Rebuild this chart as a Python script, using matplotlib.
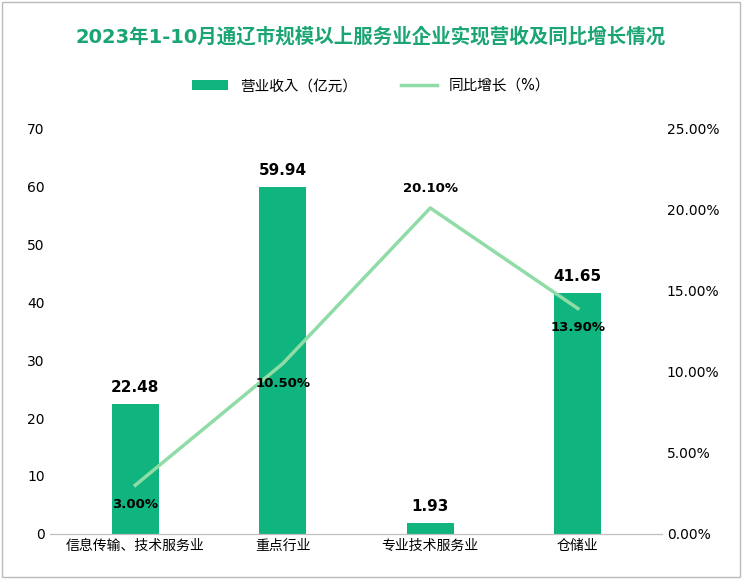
import matplotlib.pyplot as plt
from matplotlib import font_manager
from matplotlib.ticker import FuncFormatter
from matplotlib.patches import Rectangle

names = {f.name for f in font_manager.fontManager.ttflist}
cjk = sorted([n for n in names if 'CJK' in n and 'Sans' in n], key=lambda n: 'SC' not in n)
plt.rcParams['font.family'] = ['DejaVu Sans'] + cjk

categories = ['信息传输、技术服务业', '重点行业', '专业技术服务业', '仓储业']
revenue = [22.48, 59.94, 1.93, 41.65]
growth = [3.00, 10.50, 20.10, 13.90]

bar_color = '#10b47e'
line_color = '#8fdca6'

fig = plt.figure(figsize=(7.42, 5.79), dpi=100)
fig.patches.append(Rectangle((0.003, 0.003), 0.994, 0.994, transform=fig.transFigure,
                             fill=False, edgecolor='#bbbbbb', lw=1))
ax = fig.add_axes([0.067, 0.078, 0.825, 0.7])
ax2 = ax.twinx()

x = range(len(categories))
bars = ax.bar(x, revenue, width=0.32, color=bar_color, label='营业收入（亿元）')
for xi, v in zip(x, revenue):
    ax.text(xi, v + 1.5, f'{v:.2f}', ha='center', va='bottom', fontsize=11, fontweight='bold')
line, = ax2.plot(x, growth, color=line_color, lw=2.5, label='同比增长（%）')
for xi, v in zip(x, growth):
    dy = 1.2 if xi == 2 else -1.2
    ax2.text(xi, v + dy, f'{v:.2f}%', ha='center', va='center', fontsize=9.5, fontweight='bold')

ax.set_ylim(0, 70)
ax.set_yticks(range(0, 71, 10))
ax2.set_ylim(0, 25)
ax2.set_yticks([0, 5, 10, 15, 20, 25])
ax2.yaxis.set_major_formatter(FuncFormatter(lambda v, p: f'{v:.2f}%'))
ax.set_xticks(list(x))
ax.set_xticklabels(categories, fontsize=10)
ax.set_xlim(-0.58, 3.57)
for a in (ax, ax2):
    for s in ['top', 'left', 'right']:
        a.spines[s].set_visible(False)
    a.spines['bottom'].set_color('#bfbfbf')
    a.tick_params(length=0, labelsize=10)

fig.text(0.5, 0.937, '2023年1-10月通辽市规模以上服务业企业实现营收及同比增长情况', ha='center',
         va='center', fontsize=14, fontweight='bold', color='#1aa572')
fig.legend([bars, line], ['营业收入（亿元）', '同比增长（%）'], loc='center', ncol=2,
           bbox_to_anchor=(0.5, 0.852), frameon=False, fontsize=10.5, handlelength=2.5,
           columnspacing=3)

fig.savefig('out.png', dpi=100)
